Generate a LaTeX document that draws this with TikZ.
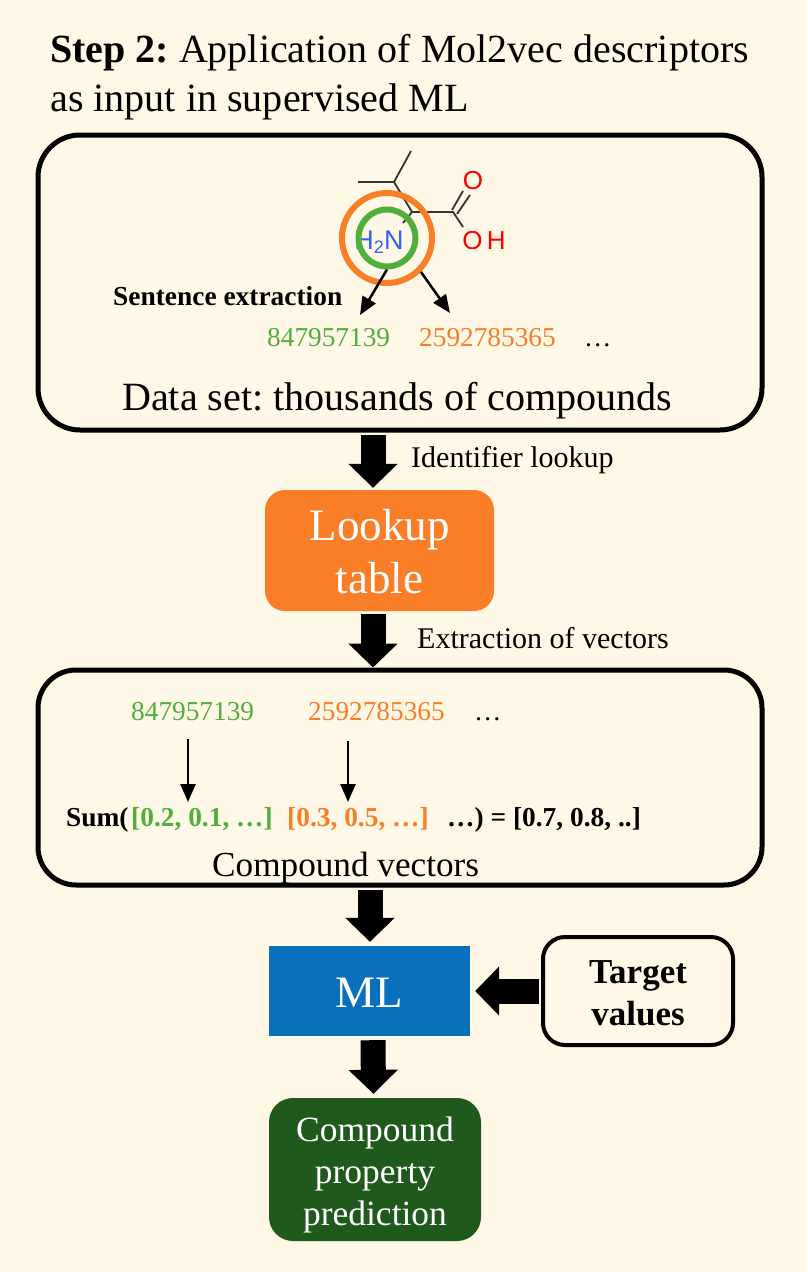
\documentclass[tikz,border=0pt]{standalone}
\usepackage{fontspec}
\setmainfont{Liberation Serif}
\setsansfont{Liberation Sans}
\usetikzlibrary{arrows.meta}
\definecolor{pagebg}{HTML}{FFF8E6}
\definecolor{fpgreen}{HTML}{4FAF3C}
\definecolor{fporange}{HTML}{FA7D28}
\definecolor{mlblue}{HTML}{0A70BC}
\definecolor{preddark}{HTML}{1F5A1C}
\definecolor{nblue}{HTML}{3060FF}
\definecolor{bondgray}{HTML}{333333}
\newcommand{\txt}[1]{\fontsize{#1}{#1}\selectfont}
\frenchspacing
\tikzset{
  linebox/.style={draw=black,line width=5pt,fill=none,rounded corners=42pt,inner sep=0pt},
  fillbox/.style={text=white,align=center,inner sep=0pt},
  bigarrow/.style={line width=25pt,-{Triangle[width=48pt,length=24pt]}},
  thinarrow/.style={line width=2.5pt,-{Triangle[width=15pt,length=18pt]}},
  bond/.style={draw=bondgray,line width=1.8pt},
  plaintxt/.style={inner sep=0pt,anchor=base west},
}
\begin{document}
\begin{tikzpicture}[x=1pt,y=-1pt]
  \useasboundingbox[fill=pagebg] (0,0) rectangle (807,1272);
  % heading
  \node[plaintxt] (head1) at (50,62) {\txt{40}\textbf{Step 2:} Application of Mol2vec descriptors};
  \node[plaintxt] (head2) at (50,111) {\txt{40.1}as input in supervised ML};
  % boxes
  \node[linebox,minimum width=724pt,minimum height=295pt] (dataset) at (400,282.5) {};
  \node[fillbox,fill=fporange,rounded corners=20pt,minimum width=229pt,minimum height=121pt,font=\fontsize{45}{53}\selectfont] (lookup) at (379.5,550.5) {\rule{0pt}{33pt}Lookup\\table};
  \node[linebox,rounded corners=38pt,minimum width=724pt,minimum height=215pt] (vectors) at (400,777.5) {};
  \node[fillbox,fill=mlblue,minimum width=201pt,minimum height=90pt] (ml) at (369.5,991) {\txt{45}\rule{0pt}{33pt}ML};
  \node[linebox,line width=4pt,rounded corners=22pt,minimum width=190pt,minimum height=108pt,align=center,font=\fontsize{35}{42}\selectfont\bfseries] (target) at (638,991) {\rule{0pt}{28pt}Target\\values};
  \node[fillbox,fill=preddark,rounded corners=24pt,minimum width=212pt,minimum height=143pt,font=\fontsize{35.5}{42}\selectfont] (predict) at (375,1169.5) {\rule{0pt}{35pt}Compound\\property\\prediction};
  % molecule
  \coordinate (c1) at (411,151);
  \coordinate (c2) at (394,182);
  \coordinate (c3) at (358,182);
  \coordinate (c4) at (412,212);
  \coordinate (c5) at (453,212);
  \draw[bond] (c1) -- (c2) -- (c3);
  \draw[bond] (c2) -- (c4) -- (c5) -- (463,227);
  \draw[bond] (c4) -- (403,223);
  \draw[bond] (452,210) -- (463,191);
  \draw[bond] (457,214) -- (470,195);
  \node[text=red,inner sep=0pt,font=\sffamily] (oxo) at (473,181) {\txt{26}O};
  \node[text=red,inner sep=0pt,font=\sffamily] (hydroxy) at (484,241) {\txt{26}O\,H};
  \node[text=nblue,inner sep=0pt,font=\sffamily] (amine) at (379,242) {\txt{27}H\raisebox{-4pt}{\txt{18}2}N};
  \node[circle,draw=fporange,line width=6pt,minimum size=90pt,inner sep=0pt] (outer) at (387,238) {};
  \node[circle,draw=fpgreen,line width=6pt,minimum size=57pt,inner sep=0pt] (inner) at (387,238) {};
  % sentence
  \node[plaintxt] (sentence) at (113,305) {\txt{27.4}\textbf{Sentence extraction}};
  \node[plaintxt,text=fpgreen] (id1) at (267,346) {\txt{27.3}847957139};
  \node[plaintxt,text=fporange] (id2) at (419,346) {\txt{27.3}2592785365};
  \node[plaintxt] (dots1) at (584,346) {\txt{27.3}…};
  \node[plaintxt] (datalabel) at (122,410) {\txt{40.1}Data set: thousands of compounds};
  \draw[thinarrow] (inner.south) -- (360,315);
  \draw[thinarrow] (outer.-45) -- (450,313);
  % main flow
  \draw[bigarrow] ([xshift=-27pt,yshift=-2pt]dataset.south) -- ([xshift=-6.5pt,yshift=2pt]lookup.north);
  \draw[bigarrow] ([xshift=-6.5pt,yshift=-3pt]lookup.south) -- ([xshift=-27pt,yshift=0pt]vectors.north);
  \draw[bigarrow] ([xshift=-30pt,yshift=-2pt]vectors.south) -- ([xshift=0.5pt,yshift=4pt]ml.north);
  \draw[bigarrow] ([xshift=3.5pt,yshift=-4pt]ml.south) -- ([xshift=-1.5pt,yshift=4pt]predict.north);
  \draw[bigarrow] ([xshift=-2pt]target.west) -- ([xshift=5pt]ml.east);
  \node[plaintxt] (lookuplabel) at (411,467) {\txt{30}Identifier lookup};
  \node[plaintxt] (extractlabel) at (417,648) {\txt{30}Extraction of vectors};
  % vectors box
  \node[plaintxt,text=fpgreen] (id3) at (131,720) {\txt{27.3}847957139};
  \node[plaintxt,text=fporange] (id4) at (308,720) {\txt{27.3}2592785365};
  \node[plaintxt] (dots2) at (474,720) {\txt{27.3}…};
  \node[plaintxt] (sumtxt) at (66,826) {\txt{27.4}\textbf{Sum(}};
  \node[plaintxt,text=fpgreen] (vec1) at (131,826) {\txt{27.4}\textbf{[0.2, 0.1, …]}};
  \node[plaintxt,text=fporange] (vec2) at (287,826) {\txt{27.4}\textbf{[0.3, 0.5, …]}};
  \node[plaintxt] (vec3) at (447,826) {\txt{27.4}\textbf{…) = [0.7, 0.8, ..]}};
  \node[plaintxt] (vectorslabel) at (212,876) {\txt{35.2}Compound vectors};
  \coordinate (a1) at (188,739);
  \coordinate (b1) at (188,802);
  \coordinate (a2) at (348,741);
  \coordinate (b2) at (348,802);
  \draw[thinarrow] (a1) -- (b1);
  \draw[thinarrow] (a2) -- (b2);
\end{tikzpicture}
\end{document}
